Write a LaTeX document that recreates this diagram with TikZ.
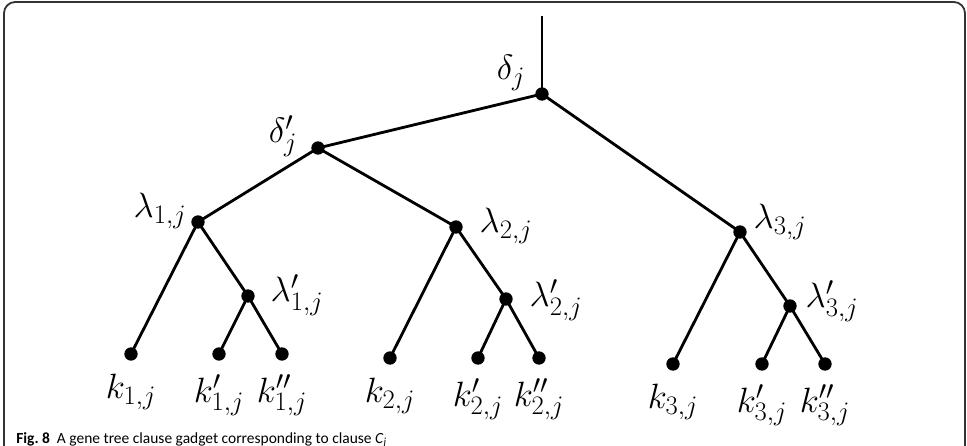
\documentclass[tikz,border=0pt]{standalone}
\usepackage{fix-cm}
\usepackage{fontspec}
\newfontfamily\capfont{Carlito}
\DeclareMathSizes{25}{25}{19}{14}
\usetikzlibrary{positioning}

\begin{document}
\begin{tikzpicture}[x=0.025cm,y=-0.025cm,
  edge/.style={line width=2pt},
  dot/.style={circle,fill,inner sep=0pt,minimum size=9.5pt},
  lab/.style={font=\fontsize{25}{30}\selectfont,inner sep=0pt}]

\useasboundingbox (0,0) rectangle (967,446);
\draw[line width=1.3pt,black!80,rounded corners=8pt] (4,452) -- (4,2) -- (965,2) -- (965,452);

\coordinate (top) at (542,16);
\coordinate (d) at (542,94);
\coordinate (dp) at (318,148);
\coordinate (l1) at (198,222);
\coordinate (l2) at (456,227);
\coordinate (l3) at (740,232);
\coordinate (l1p) at (248,296);
\coordinate (l2p) at (506,299);
\coordinate (l3p) at (790,306);
\coordinate (k1) at (131,354);
\coordinate (k1p) at (219,354);
\coordinate (k1pp) at (282,354);
\coordinate (k2) at (390,358);
\coordinate (k2p) at (478,358);
\coordinate (k2pp) at (539,358);
\coordinate (k3) at (673,364);
\coordinate (k3p) at (762,364);
\coordinate (k3pp) at (825,364);

\draw[edge] (top) -- (d);
\draw[edge] (d) -- (dp) (d) -- (l3);
\draw[edge] (dp) -- (l1) (dp) -- (l2);
\draw[edge] (l1) -- (k1) (l1) -- (l1p) -- (k1p) (l1p) -- (k1pp);
\draw[edge] (l2) -- (k2) (l2) -- (l2p) -- (k2p) (l2p) -- (k2pp);
\draw[edge] (l3) -- (k3) (l3) -- (l3p) -- (k3p) (l3p) -- (k3pp);

\foreach \p in {d,dp,l1,l2,l3,l1p,l2p,l3p,k1,k1p,k1pp,k2,k2p,k2pp,k3,k3p,k3pp}
  \node[dot] (n-\p) at (\p) {};

\node[lab] (ld) at (511,73) {$\delta_j$};
\node[lab] (ldp) at (283,136) {$\delta'_j$};
\node[lab] (ll1) at (160,211) {$\lambda_{1,j}$};
\node[lab] (ll2) at (506,226) {$\lambda_{2,j}$};
\node[lab] (ll3) at (780,222) {$\lambda_{3,j}$};
\node[lab] (ll1p) at (297,295) {$\lambda'_{1,j}$};
\node[lab] (ll2p) at (556,300) {$\lambda'_{2,j}$};
\node[lab] (ll3p) at (832,301) {$\lambda'_{3,j}$};

\node[lab,below=0.33cm of n-k1] (lk1) {$k_{1,j}$};
\node[lab,below=0.33cm of n-k1p] (lk1p) {$k'_{1,j}$};
\node[lab,below=0.33cm of n-k1pp] (lk1pp) {$k''_{1,j}$};
\node[lab,below=0.33cm of n-k2] (lk2) {$k_{2,j}$};
\node[lab,below=0.33cm of n-k2p] (lk2p) {$k'_{2,j}$};
\node[lab,below=0.33cm of n-k2pp] (lk2pp) {$k''_{2,j}$};
\node[lab,below=0.33cm of n-k3] (lk3) {$k_{3,j}$};
\node[lab,below=0.33cm of n-k3p] (lk3p) {$k'_{3,j}$};
\node[lab,below=0.33cm of n-k3pp] (lk3pp) {$k''_{3,j}$};

\node[anchor=base west,inner sep=0pt,font=\capfont\fontsize{11}{13}\selectfont] (cap) at (16,443)
  {\textbf{Fig.~8}\ \ A gene tree clause gadget corresponding to clause \textit{C}\textsubscript{\textit{j}}};
\end{tikzpicture}
\end{document}
